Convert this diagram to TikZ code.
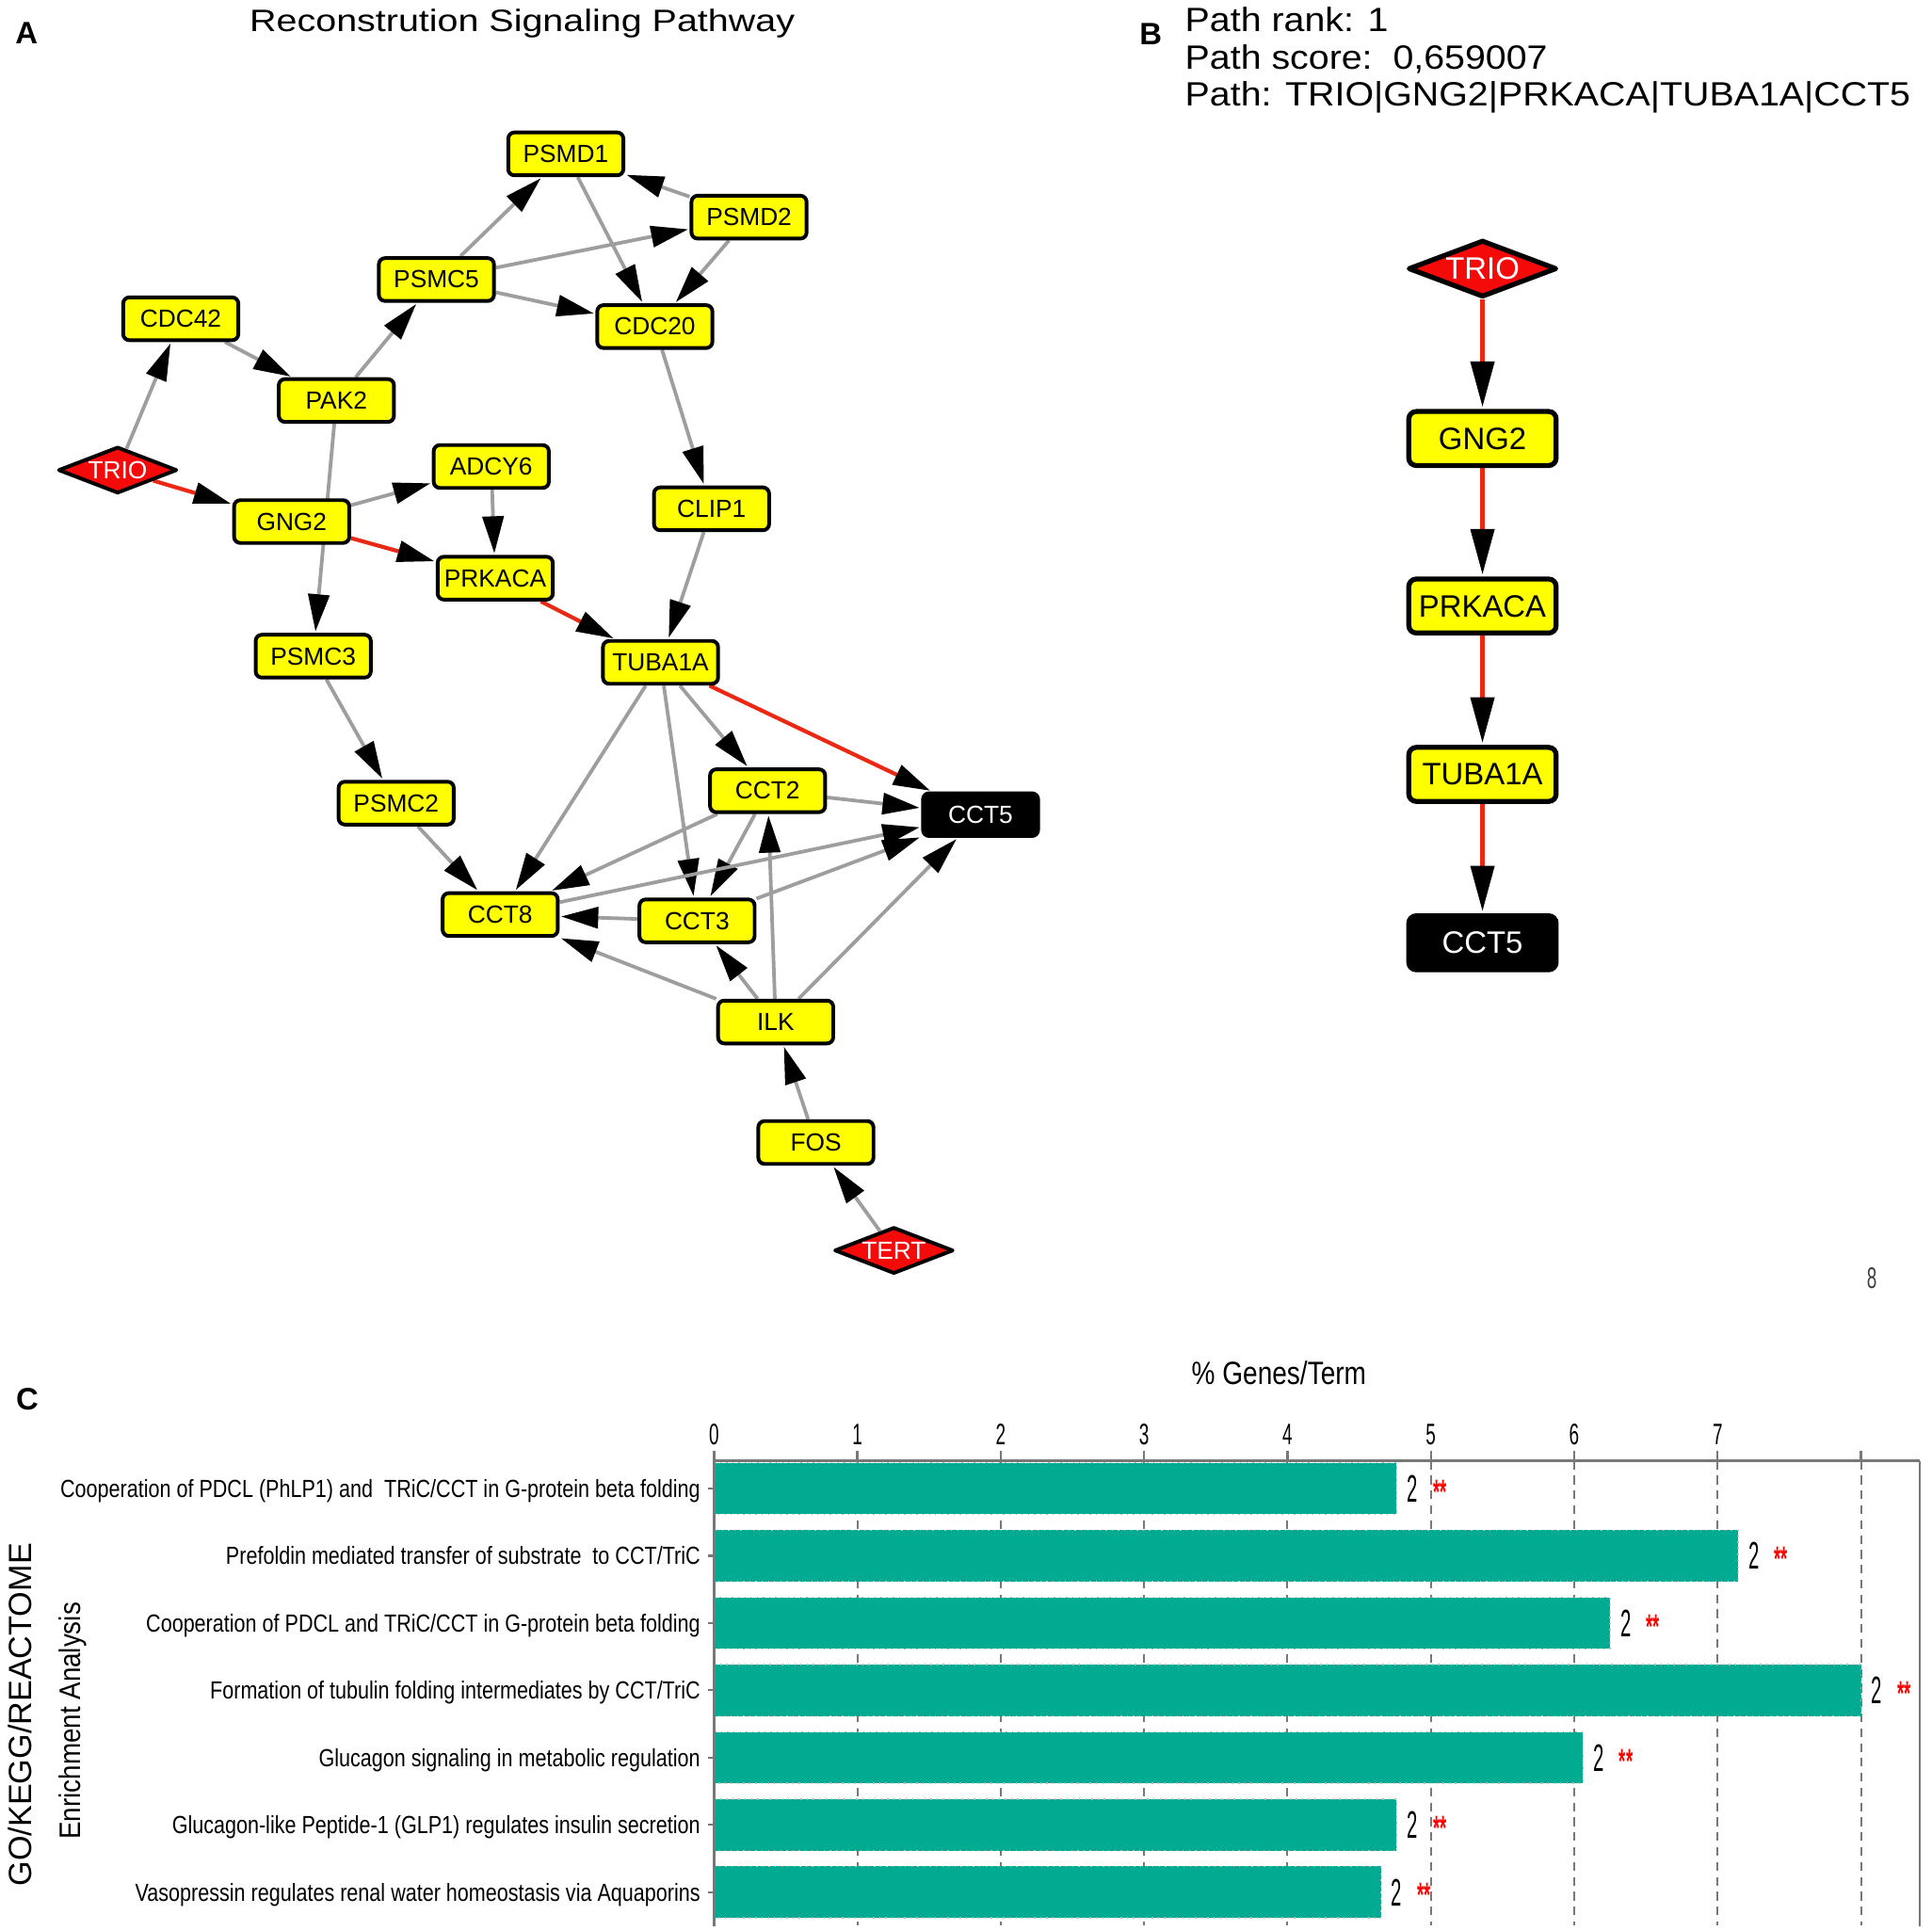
\documentclass[tikz,border=0pt]{standalone}
\usepackage{fontspec}
\setmainfont{Liberation Sans}
\newfontfamily\wideF[FakeStretch=1.2]{Liberation Sans}
\newfontfamily\pathF[FakeStretch=1.1]{Liberation Sans}
\newfontfamily\condF[FakeStretch=0.82]{Liberation Sans}
\newfontfamily\enrF[FakeStretch=0.88]{Liberation Sans}
\newfontfamily\narrowF[FakeStretch=0.5]{Liberation Sans}
\newfontfamily\tickF[FakeStretch=0.6]{Liberation Sans}
\usetikzlibrary{shapes.geometric,arrows.meta}
\pgfdeclarelayer{bg}
\pgfsetlayers{bg,main}
\definecolor{nodeyellow}{RGB}{255,255,0}
\definecolor{edgegray}{RGB}{158,158,158}
\definecolor{pathred}{RGB}{235,40,20}
\definecolor{diamondred}{RGB}{245,10,10}
\definecolor{barteal}{RGB}{0,171,146}
\definecolor{axisgray}{RGB}{120,120,120}
\definecolor{gridgray}{RGB}{120,120,120}
\tikzset{
  abox/.style={draw=black, line width=1.5pt, fill=nodeyellow, rounded corners=2.5pt,
    minimum width=46.5pt, minimum height=17.3pt, inner sep=0pt, font=\fontsize{10}{10}\selectfont},
  ablack/.style={abox, fill=black, text=white},
  adiam/.style={diamond, aspect=2.6, draw=black, line width=1.5pt, fill=diamondred, text=white,
    minimum width=48pt, minimum height=18.8pt, inner sep=0pt, line join=round,
    font=\fontsize{10}{10}\selectfont},
  bbox/.style={draw=black, line width=2pt, fill=nodeyellow, rounded corners=3pt,
    minimum width=59.5pt, minimum height=21.8pt, inner sep=0pt, font=\fontsize{12.5}{12.5}\selectfont},
  bblack/.style={bbox, fill=black, text=white},
  bdiam/.style={diamond, aspect=2.6, draw=black, line width=2pt, fill=diamondred, text=white,
    minimum width=60pt, minimum height=23pt, inner sep=0pt, line join=round,
    font=\fontsize{12.5}{12.5}\selectfont},
  gedge/.style={draw=edgegray, line width=1.45pt, shorten >=0.6pt,
    -{Triangle[length=15pt,width=8.5pt,color=black]}},
  redge/.style={gedge, draw=pathred, line width=1.6pt},
  bedge/.style={draw=pathred, line width=1.8pt, shorten >=0.8pt,
    -{Triangle[length=18.4pt,width=9.4pt,color=black]}},
  panlab/.style={anchor=base, inner sep=0pt, font=\bfseries\fontsize{12.5}{12.5}\selectfont},
  gridline/.style={draw=gridgray, line width=0.75pt, dash pattern=on 3.5pt off 2.5pt},
  axisline/.style={draw=axisgray, line width=1.3pt},
  barstyle/.style={fill=barteal, draw=gray!55, dotted, line width=0.5pt},
  rowlab/.style={anchor=base east, inner sep=0pt, font=\condF\fontsize{10}{10}\selectfont},
  vallab/.style={anchor=base west, inner sep=0pt, font=\narrowF\fontsize{15.5}{15.5}\selectfont},
  starlab/.style={anchor=base west, inner sep=0pt, text=red, font=\narrowF\bfseries\fontsize{14}{14}\selectfont},
  ticklab/.style={anchor=base, inner sep=0pt, font=\tickF\fontsize{12}{12}\selectfont}
}
% #1 row index, #2 percentage value, #3 label
\newcommand\enrbar[3]{%
  \pgfmathsetmacro\yc{1202.3+54.33*#1}%
  \pgfmathsetmacro\xe{576.7+115.8*#2}%
  \path[barstyle] (576.7,\yc-20.75) rectangle (\xe,\yc+20.75);
  \draw[axisgray, line width=0.8pt] (571.5,\yc) -- (576.7,\yc);
  \node[rowlab] (row#1) at (566,\yc+7.2) {#3};
  \node[vallab] (val#1) at (\xe+8,\yc+11) {2};
  \node[starlab] (star#1) at (\xe+29,\yc+12.4) {**};
}
\begin{document}
\begin{tikzpicture}[x=0.5pt,y=-0.5pt]
\useasboundingbox (0,0) rectangle (1560.5,1559);
\begin{pgfonlayer}{bg}
\fill[white] (0,0) rectangle (1560.5,1559);
\end{pgfonlayer}

% ---------- Panel A ----------
\node[panlab] (labA) at (21.5,35.6) {A};
\node[anchor=base, inner sep=0pt, font=\wideF\fontsize{12.5}{12.5}\selectfont] (titleA) at (421.8,25.5) {Reconstrution Signaling Pathway};

\node[abox] (psmd1) at (457,124.3) {PSMD1};
\node[abox] (psmd2) at (605,175.4) {PSMD2};
\node[abox] (psmc5) at (352.5,225.8) {PSMC5};
\node[abox] (cdc20) at (528.9,263.8) {CDC20};
\node[abox] (cdc42) at (146,257.5) {CDC42};
\node[abox] (pak2) at (271.7,323.5) {PAK2};
\node[adiam] (trio) at (95,379.7) {TRIO};
\node[abox] (adcy6) at (396.8,376.8) {ADCY6};
\node[abox] (gng2) at (235.6,421.3) {GNG2};
\node[abox] (clip1) at (574.7,411) {CLIP1};
\node[abox] (prkaca) at (400,467) {PRKACA};
\node[abox] (psmc3) at (253,530) {PSMC3};
\node[abox] (tuba1a) at (533.5,535) {TUBA1A};
\node[abox] (psmc2) at (320,648.7) {PSMC2};
\node[abox] (cct2) at (620,638.7) {CCT2};
\node[ablack] (cct5) at (792,658) {CCT5};
\node[abox] (cct8) at (404,738.7) {CCT8};
\node[abox] (cct3) at (563,743.8) {CCT3};
\node[abox] (ilk) at (626.5,825.5) {ILK};
\node[abox] (fos) at (659,922.8) {FOS};
\node[adiam] (tert) at (722,1010) {TERT};

\begin{pgfonlayer}{bg}
\draw[gedge] (trio) -- (cdc42);
\draw[redge] (trio) -- (gng2);
\draw[gedge] (cdc42) -- (pak2);
\draw[gedge] (pak2) -- (psmc5);
\draw[gedge] (psmc5) -- (psmd1);
\draw[gedge] (psmc5) -- (psmd2);
\draw[gedge] (psmc5) -- (cdc20);
\draw[gedge] (psmd1) -- (cdc20);
\draw[gedge] (psmd2) -- (psmd1);
\draw[gedge] (psmd2) -- (cdc20);
\draw[gedge] (cdc20) -- (clip1);
\draw[gedge] (clip1) -- (tuba1a);
\draw[gedge] (pak2) -- (psmc3);
\draw[gedge] (gng2) -- (adcy6);
\draw[redge] (gng2) -- (prkaca);
\draw[gedge] (adcy6) -- (prkaca);
\draw[redge] (prkaca) -- (tuba1a);
\draw[gedge] (psmc3) -- (psmc2);
\draw[gedge] (psmc2) -- (cct8);
\draw[gedge] (tuba1a) -- (cct8);
\draw[gedge] (tuba1a) -- (cct3);
\draw[gedge] (tuba1a) -- (cct2);
\draw[redge] (tuba1a) -- (cct5);
\draw[gedge] (cct2) -- (cct5);
\draw[gedge] (cct2) -- (cct8);
\draw[gedge] (cct2) -- (cct3);
\draw[gedge] (cct8) -- (cct5);
\draw[gedge] (cct3) -- (cct5);
\draw[gedge] (cct3) -- (cct8);
\draw[gedge] (ilk) -- (cct8);
\draw[gedge] (ilk) -- (cct3);
\draw[gedge] (ilk) -- (cct2);
\draw[gedge] (ilk) -- (cct5);
\draw[gedge] (fos) -- (ilk);
\draw[gedge] (tert) -- (fos);
\end{pgfonlayer}

% ---------- Panel B ----------
\node[panlab] (labB) at (929.5,36.3) {B};
\node[anchor=base west, inner sep=0pt, font=\pathF\fontsize{13.6}{13.6}\selectfont] (rank) at (956.8,25.6) {Path rank: 1};
\node[anchor=base west, inner sep=0pt, font=\pathF\fontsize{13.6}{13.6}\selectfont] (score) at (956.8,56) {Path score:~~0,659007};
\node[anchor=base west, inner sep=0pt, font=\pathF\fontsize{13.6}{13.6}\selectfont] (pathtxt) at (956.8,85.3) {Path: TRIO|GNG2|PRKACA|TUBA1A|CCT5};

\node[bdiam] (btrio) at (1197.4,217) {TRIO};
\node[bbox] (bgng2) at (1197.4,354.2) {GNG2};
\node[bbox] (bprkaca) at (1197.4,489.5) {PRKACA};
\node[bbox] (btuba1a) at (1197.4,625.5) {TUBA1A};
\node[bblack] (bcct5) at (1197.4,761.5) {CCT5};
\begin{pgfonlayer}{bg}
\draw[bedge] (btrio) -- (bgng2);
\draw[bedge] (bgng2) -- (bprkaca);
\draw[bedge] (bprkaca) -- (btuba1a);
\draw[bedge] (btuba1a) -- (bcct5);
\end{pgfonlayer}

% ---------- Panel C ----------
\node[panlab] (labC) at (22,1138.8) {C};
\node[anchor=base, inner sep=0pt, font=\condF\fontsize{13}{13}\selectfont] (xtitle) at (1033,1118) {\% Genes/Term};
\node[rotate=90, anchor=base, inner sep=0pt, font=\fontsize{13}{13}\selectfont] (ytitle1) at (25.5,1385) {GO/KEGG/REACTOME};
\node[rotate=90, anchor=base, inner sep=0pt, font=\enrF\fontsize{12}{12}\selectfont] (ytitle2) at (65,1390) {Enrichment Analysis};

\foreach \i in {1,...,8} {
  \draw[gridline] ({576.7+\i*115.8},1180) -- ({576.7+\i*115.8},1555);
}
\foreach \i in {0,...,8} {
  \draw[axisgray, line width=0.9pt] ({576.7+\i*115.8},1172) -- ({576.7+\i*115.8},1180);
}
\foreach \i in {0,...,7} {
  \node[ticklab] (tick\i) at ({576.7+\i*115.8},1167) {\i};
}
\node[ticklab, text=black!75] (stray8) at (1512,1041) {8};

\enrbar{0}{4.762}{Cooperation of PDCL (PhLP1) and~ TRiC/CCT in G-protein beta folding}
\enrbar{1}{7.143}{Prefoldin mediated transfer of substrate~ to CCT/TriC}
\enrbar{2}{6.25}{Cooperation of PDCL and TRiC/CCT in G-protein beta folding}
\enrbar{3}{8.0}{Formation of tubulin folding intermediates by CCT/TriC}
\enrbar{4}{6.061}{Glucagon signaling in metabolic regulation}
\enrbar{5}{4.762}{Glucagon-like Peptide-1 (GLP1) regulates insulin secretion}
\enrbar{6}{4.651}{Vasopressin regulates renal water homeostasis via Aquaporins}

\draw[axisline] (576.7,1180) -- (1550.6,1180);
\draw[axisline] (576.7,1180) -- (576.7,1556);
\draw[axisgray, line width=1pt] (1550.6,1180) -- (1550.6,1556);
\end{tikzpicture}
\end{document}
